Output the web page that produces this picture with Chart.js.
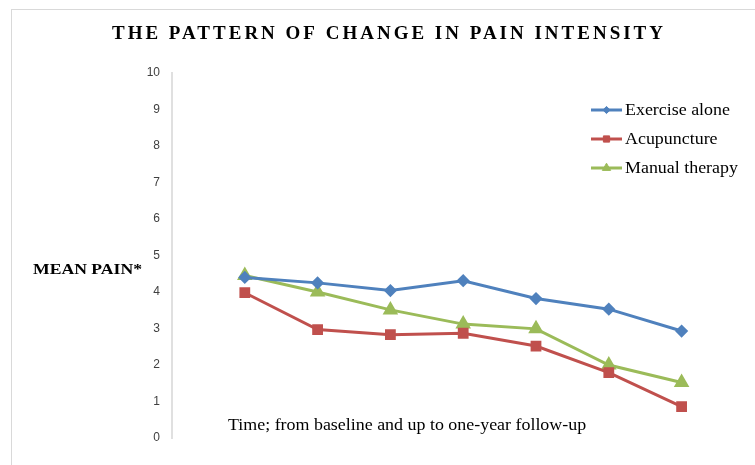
<!DOCTYPE html>
<html>
<head>
<meta charset="utf-8">
<script src="https://cdn.jsdelivr.net/npm/chart.js@4"></script>
<style>
  html, body { margin: 0; padding: 0; background: #fff; }
  #wrap { position: relative; width: 755px; height: 465px; overflow: hidden; }
  #frame { position: absolute; left: 11px; top: 9px; width: 800px; height: 500px;
           border-left: 1px solid #d9d9d9; border-top: 1px solid #d9d9d9; }
  canvas { position: absolute; left: 0; top: 0; }
</style>
</head>
<body>
<div id="wrap">
  <div id="frame"></div>
  <canvas id="painChart" width="755" height="465"></canvas>
</div>
<script>
// time points (baseline .. one-year follow-up), no labels shown on the axis
const timePoints = [1, 2, 3, 4, 5, 6, 7];

const exerciseAlone = [4.40, 4.25, 4.04, 4.31, 3.82, 3.53, 2.93];
const acupuncture   = [3.98, 2.97, 2.83, 2.87, 2.52, 1.79, 0.86];
const manualTherapy = [4.45, 4.00, 3.51, 3.12, 2.99, 2.00, 1.52];

const yTicks = [0, 1, 2, 3, 4, 5, 6, 7, 8, 9, 10];

const chartTitle = 'THE PATTERN OF CHANGE IN PAIN INTENSITY';
const yAxisTitle = 'MEAN PAIN*';
const xAxisNote = 'Time; from baseline and up to one-year follow-up';

const SERIF = '"Liberation Serif", "Times New Roman", serif';
const STRETCH = 1.12; // the original text is a bit wider than Times

function toPoints(values) {
    return values.map((v, i) => ({ x: timePoints[i], y: v }));
}

// text drawn slightly stretched horizontally, like the source picture
function wideText(ctx, text, x, y, sx) {
    ctx.save();
    ctx.translate(x, y);
    ctx.scale(sx, 1);
    ctx.fillText(text, 0, 0);
    ctx.restore();
}

// Draws the title, axis texts and an Excel-like legend (line + marker)
const textPlugin = {
    id: 'textPlugin',
    afterDraw(chart) {
        const ctx = chart.ctx;
        ctx.save();

        // title with letter spacing
        ctx.fillStyle = '#000';
        ctx.font = 'bold 19px ' + SERIF;
        ctx.textBaseline = 'middle';
        ctx.textAlign = 'left';
        ctx.letterSpacing = '0px';
        const plain = ctx.measureText(chartTitle).width;
        const spacing = (551 - plain) / (chartTitle.length - 1);
        ctx.letterSpacing = spacing + 'px';
        ctx.fillText(chartTitle, 112, 34);
        ctx.letterSpacing = '0px';

        // y axis title
        ctx.font = 'bold 15px ' + SERIF;
        ctx.textBaseline = 'alphabetic';
        const yw = ctx.measureText(yAxisTitle).width;
        wideText(ctx, yAxisTitle, 33, 274, 109 / yw);

        // note inside the plot
        ctx.font = '16px ' + SERIF;
        wideText(ctx, xAxisNote, 228, 430, STRETCH);

        // legend
        const rows = [110, 139, 168];
        ctx.textBaseline = 'middle';
        chart.data.datasets.forEach((ds, i) => {
            const y = rows[i];
            ctx.strokeStyle = ds.borderColor;
            ctx.fillStyle = ds.backgroundColor;
            ctx.lineWidth = 3;
            ctx.beginPath();
            ctx.moveTo(591, y);
            ctx.lineTo(622, y);
            ctx.stroke();
            ctx.lineWidth = 1;
            Chart.helpers.drawPoint(ctx, {
                pointStyle: ds.pointStyle,
                radius: ds.pointRadius * 0.8,
                borderWidth: 1
            }, 606.5, y);
            ctx.fillStyle = '#000';
            ctx.font = '16px ' + SERIF;
            wideText(ctx, ds.label, 625, y + 1, STRETCH);
        });

        ctx.restore();
    }
};

const seriesStyle = (color, style, radius) => ({
    borderColor: color,
    backgroundColor: color,
    pointBackgroundColor: color,
    pointBorderColor: color,
    pointStyle: style,
    pointRadius: radius,
    pointHoverRadius: radius,
    borderWidth: 3,
    tension: 0
});

const ctx = document.getElementById('painChart');
new Chart(ctx, {
    type: 'line',
    data: {
        datasets: [
            Object.assign({ label: 'Exercise alone', data: toPoints(exerciseAlone) },
                seriesStyle('#4F81BD', 'rectRot', 4.5)),
            Object.assign({ label: 'Acupuncture', data: toPoints(acupuncture) },
                seriesStyle('#C0504D', 'rect', 5.5)),
            Object.assign({ label: 'Manual therapy', data: toPoints(manualTherapy) },
                seriesStyle('#9BBB59', 'triangle', 6))
        ]
    },
    options: {
        responsive: false,
        animation: false,
        layout: {
            padding: { left: 0, top: 73, right: 37, bottom: 27 }
        },
        scales: {
            x: {
                type: 'linear',
                min: 0,
                max: 7.5,
                display: false
            },
            y: {
                min: 0,
                max: 10,
                afterFit(scale) { scale.width = 172; },
                afterBuildTicks(scale) { scale.ticks = yTicks.map(v => ({ value: v })); },
                grid: { display: false, drawTicks: false },
                border: { display: true, color: '#e0e0e0', width: 2 },
                ticks: {
                    padding: 12,
                    color: '#404040',
                    font: { family: '"Liberation Sans", Arial, sans-serif', size: 12 }
                }
            }
        },
        plugins: {
            legend: { display: false },
            title: { display: false },
            tooltip: { enabled: false }
        }
    },
    plugins: [textPlugin]
});
</script>
</body>
</html>
